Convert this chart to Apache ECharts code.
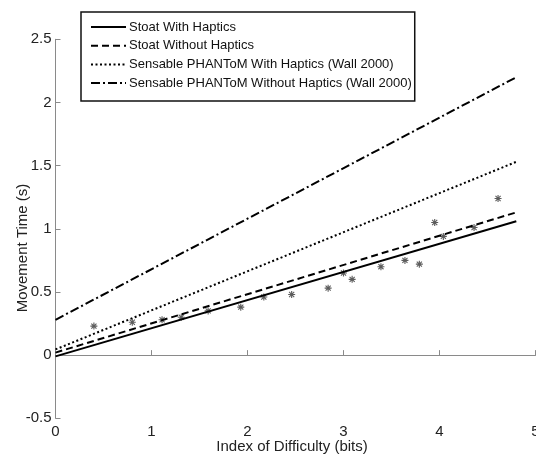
<!DOCTYPE html>
<html>
<head>
<meta charset="utf-8">
<script src="https://cdn.jsdelivr.net/npm/echarts@6/dist/echarts.min.js"></script>
<style>html,body{margin:0;padding:0;background:#fff}#c{width:536px;height:459px}</style>
</head>
<body>
<div id="c"></div>
<script>
// Fitted-line end points (x = Index of Difficulty, bits)
var lineX = [0, 4.8];
var stoatWith = [-0.01, 1.06];
var stoatWithout = [0.02, 1.13];
var phantomWith = [0.045, 1.53];
var phantomWithout = [0.28, 2.20];
// Measured points (asterisks)
var pointX = [0.40, 0.80, 1.11, 1.31, 1.59, 1.93, 2.17, 2.46, 2.84, 3.00, 3.09, 3.39, 3.64, 3.79, 3.95, 4.04, 4.36, 4.61];
var pointY = [0.23, 0.26, 0.28, 0.30, 0.35, 0.38, 0.46, 0.48, 0.53, 0.65, 0.60, 0.70, 0.75, 0.72, 1.05, 0.94, 1.01, 1.24];
var seriesNames = ['Stoat With Haptics', 'Stoat Without Haptics', 'Sensable PHANToM With Haptics (Wall 2000)', 'Sensable PHANToM Without Haptics (Wall 2000)'];
var xTicks = [0, 1, 2, 3, 4, 5];
var yTicks = [-0.5, 0, 0.5, 1, 1.5, 2, 2.5];

function pairs(xs, ys) { return xs.map(function (x, i) { return [x, ys[i]]; }); }

var FONT = '"Liberation Sans", Arial, sans-serif';
var star = 'path://M42 0 L58 0 L58 100 L42 100 Z M0 42 L100 42 L100 58 L0 58 Z M8 19 L19 8 L92 81 L81 92 Z M81 8 L92 19 L19 92 L8 81 Z';

var chart = echarts.init(document.getElementById('c'), null, { renderer: 'canvas' });
var dashTypes = ['solid', [7, 4], [2, 2.5], [9, 3, 2, 3]];
var lineData = [stoatWith, stoatWithout, phantomWith, phantomWithout];
var series = lineData.map(function (ys, i) {
  return {
    name: seriesNames[i], type: 'line', data: pairs(lineX, ys),
    symbol: 'none', showSymbol: false, silent: true, animation: false,
    lineStyle: { color: '#000', width: 2, type: dashTypes[i] },
    itemStyle: { color: '#000' }, z: 3
  };
});
series.push({
  name: 'points', type: 'scatter', data: pairs(pointX, pointY),
  symbol: star, symbolSize: 7, itemStyle: { color: '#333' }, animation: false, z: 2
});

chart.setOption({
  backgroundColor: '#fff',
  animation: false,
  grid: { left: 55.5, right: 0.5, top: 39.3, bottom: 40.7, containLabel: false, outerBoundsMode: 'none' },
  xAxis: {
    type: 'value', min: xTicks[0], max: xTicks[xTicks.length - 1], interval: 1,
    axisLine: { show: true, lineStyle: { color: '#8a8a8a', width: 1 } },
    axisTick: { show: true, inside: true, length: 5, lineStyle: { color: '#8a8a8a' } },
    axisLabel: { show: true, color: '#222', fontSize: 15, fontFamily: FONT, margin: 6, showMaxLabel: true, showMinLabel: true, hideOverlap: false },
    splitLine: { show: false }
  },
  yAxis: {
    type: 'value', min: yTicks[0], max: yTicks[yTicks.length - 1], interval: 0.5,
    axisLine: { show: true, onZero: false, lineStyle: { color: '#8a8a8a', width: 1 } },
    axisTick: { show: true, inside: true, length: 5, lineStyle: { color: '#8a8a8a' } },
    axisLabel: { show: true, color: '#222', fontSize: 15, fontFamily: FONT, margin: 4, showMaxLabel: true, showMinLabel: true },
    splitLine: { show: false }
  },
  legend: {
    data: seriesNames, orient: 'vertical', left: 81, top: 12,
    padding: [8, 3, 11, 9], itemWidth: 35, itemHeight: 14, itemGap: 4.7,
    backgroundColor: '#fff', borderColor: '#111', borderWidth: 1.5, borderRadius: 0,
    itemStyle: { color: 'rgba(0,0,0,0)', borderColor: 'rgba(0,0,0,0)', borderWidth: 0, opacity: 0 },
    textStyle: { color: '#111', fontSize: 13, fontFamily: FONT, lineHeight: 14, padding: [0, 0, 0, -2] },
    selectedMode: false, z: 10
  },
  graphic: [
    { type: 'text', style: { text: 'Index of Difficulty (bits)', fill: '#222', font: '15px ' + FONT, textAlign: 'center', textVerticalAlign: 'middle' }, position: [292, 447] },
    { type: 'text', style: { text: 'Movement Time (s)', fill: '#222', font: '15px ' + FONT, textAlign: 'center', textVerticalAlign: 'middle' }, position: [23, 248], rotation: Math.PI / 2 }
  ],
  series: series
});
</script>
</body>
</html>
